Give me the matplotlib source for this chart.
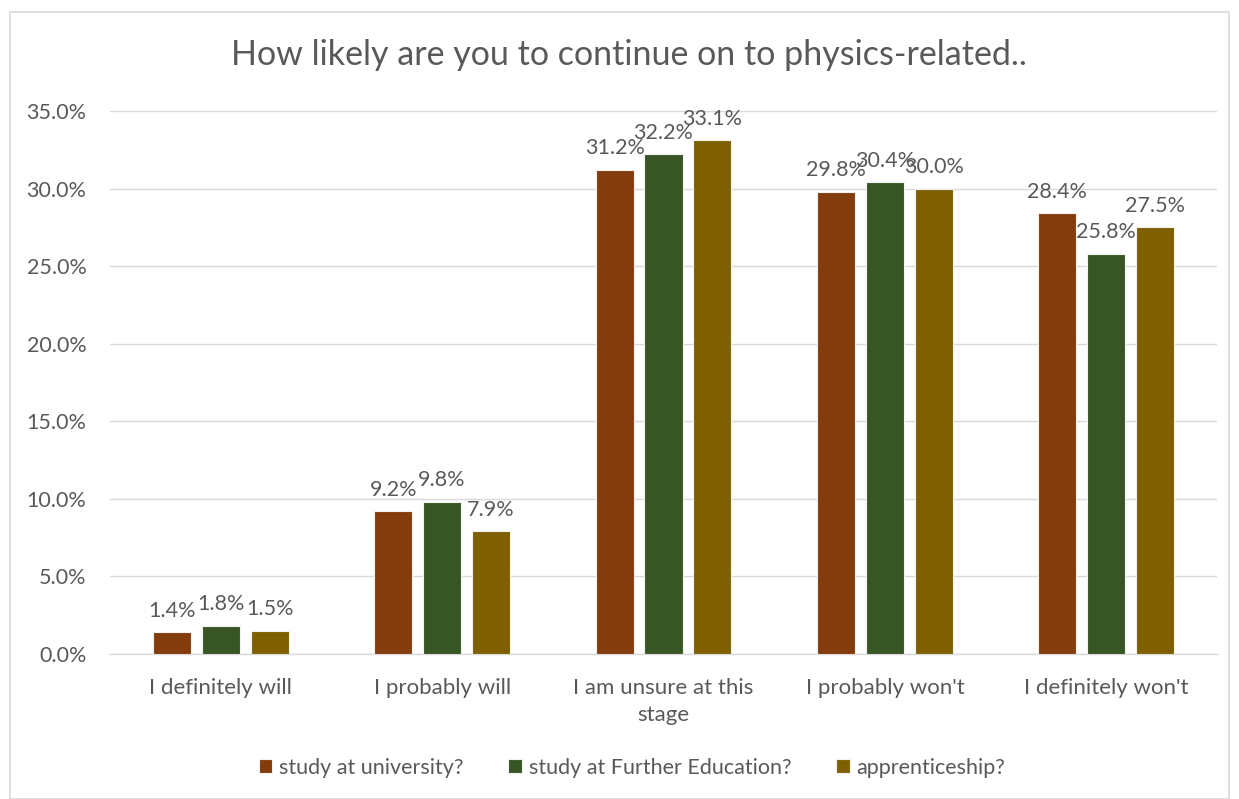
import matplotlib
matplotlib.use("Agg")
import matplotlib.pyplot as plt
import numpy as np
from matplotlib.patches import Rectangle

plt.rcParams['font.family'] = ['Lato', 'DejaVu Sans']

categories = ["I definitely will", "I probably will", "I am unsure at this\nstage",
              "I probably won't", "I definitely won't"]
series_names = ["study at university?", "study at Further Education?", "apprenticeship?"]
university = [1.4, 9.2, 31.2, 29.8, 28.4]
further_ed = [1.8, 9.8, 32.2, 30.4, 25.8]
apprenticeship = [1.5, 7.9, 33.1, 30.0, 27.5]
yticks = [0, 5, 10, 15, 20, 25, 30, 35]

colors = ["#843C0C", "#375623", "#7F6000"]
text_color = "#595959"

fig = plt.figure(figsize=(12.39, 7.99), dpi=100)
fig.patches.append(Rectangle((10 / 1239, 0), 1219 / 1239, 1 - 12 / 799,
                             transform=fig.transFigure, fill=False,
                             edgecolor="#D9D9D9", linewidth=1.2))

ax = fig.add_axes([110 / 1239, 1 - 654 / 799, (1217 - 110) / 1239, (654 - 111) / 799])

x = np.arange(len(categories))
width = 0.172
offset = 0.221
for i, (vals, name) in enumerate(zip([university, further_ed, apprenticeship], series_names)):
    pos = x + (i - 1) * offset
    ax.bar(pos, vals, width, color=colors[i], edgecolor="#F2F2F2",
           linewidth=0.8, label=name, zorder=3)
    for xp, v in zip(pos, vals):
        ax.text(xp, v + 0.75, f"{v:.1f}%", ha="center", va="bottom",
                fontsize=15.5, color=text_color, zorder=4)

ax.set_xlim(-0.5, len(categories) - 0.5)
ax.set_ylim(0, 35)
ax.set_yticks(yticks)
ax.set_yticklabels([f"{t:.1f}%" for t in yticks], fontsize=15.5)
ax.set_xticks(x)
ax.set_xticklabels(categories, fontsize=16, linespacing=1.45)
ax.grid(axis="y", color="#D9D9D9", linewidth=1, zorder=0)
ax.tick_params(axis="both", length=0, labelcolor=text_color)
ax.tick_params(axis="y", pad=17)
ax.tick_params(axis="x", pad=17)
for s in ["top", "right", "left"]:
    ax.spines[s].set_visible(False)
ax.spines["bottom"].set_color("#D9D9D9")
ax.spines["bottom"].set_linewidth(1)

fig.text(629 / 1239, 1 - 55 / 799, "How likely are you to continue on to physics-related..",
         ha="center", va="center", fontsize=24.5, color=text_color)

fig.legend(loc="center", bbox_to_anchor=(632 / 1239, 1 - 768 / 799), ncol=3,
           frameon=False, fontsize=15.5, labelcolor=text_color, handlelength=0.63,
           handleheight=0.63, handletextpad=0.3, columnspacing=2.1)

fig.savefig("out.png", dpi=100)
